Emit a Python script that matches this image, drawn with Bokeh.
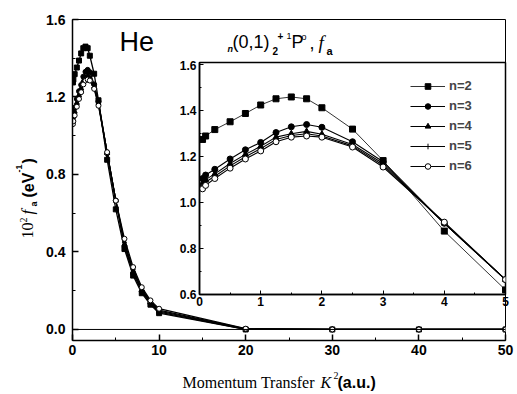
from bokeh.plotting import figure
from bokeh.models import Label, Legend, LegendItem, Span, FixedTicker, Range1d, PrintfTickFormatter
from bokeh.layouts import column
from bokeh.embed import file_html
from bokeh.resources import INLINE
import math

# Momentum transfer K^2 (a.u.) sampled near the peak and in the tail
k2_low = [0.05, 0.1, 0.25, 0.5, 0.75, 1.0, 1.25, 1.5, 1.75, 2.0, 2.5, 3.0, 4.0, 5.0]
k2_high = [6, 7, 8, 9, 10, 20, 30, 40, 50]

# 10^2 f_a (eV^-1) for each basis size n
fa_n2_low = [1.275, 1.29, 1.318, 1.352, 1.388, 1.425, 1.452, 1.46, 1.452, 1.413, 1.32, 1.183, 0.876, 0.62]
fa_n3_low = [1.105, 1.12, 1.145, 1.19, 1.23, 1.262, 1.305, 1.33, 1.34, 1.328, 1.265, 1.178, 0.91, 0.665]
fa_n4_low = [1.085, 1.10, 1.125, 1.17, 1.21, 1.245, 1.285, 1.30, 1.31, 1.298, 1.253, 1.17, 0.91, 0.665]
fa_n5_low = [1.075, 1.09, 1.115, 1.16, 1.20, 1.235, 1.275, 1.292, 1.30, 1.29, 1.247, 1.163, 0.91, 0.665]
fa_n6_low = [1.06, 1.075, 1.105, 1.15, 1.19, 1.225, 1.265, 1.285, 1.29, 1.285, 1.242, 1.155, 0.915, 0.665]

fa_n2_high = [0.415, 0.278, 0.187, 0.128, 0.084, 0.0, 0.0, 0.0, 0.0]
fa_n3_high = [0.43, 0.29, 0.195, 0.135, 0.09, 0.001, 0.0, 0.0, 0.0]
fa_n4_high = [0.44, 0.30, 0.203, 0.14, 0.095, 0.002, 0.0, 0.0, 0.0]
fa_n5_high = [0.45, 0.31, 0.21, 0.145, 0.10, 0.003, 0.0, 0.0, 0.0]
fa_n6_high = [0.468, 0.322, 0.218, 0.150, 0.107, 0.004, 0.0, 0.0, 0.0]

series_labels = ["n=2", "n=3", "n=4", "n=5", "n=6"]
series_low = [fa_n2_low, fa_n3_low, fa_n4_low, fa_n5_low, fa_n6_low]
series_high = [fa_n2_high, fa_n3_high, fa_n4_high, fa_n5_high, fa_n6_high]
markers = ["square", "circle", "triangle", "cross", "circle"]
fills = ["black", "black", "black", "black", "white"]

main_x_ticks = [0, 10, 20, 30, 40, 50]
main_y_ticks = [0.0, 0.4, 0.8, 1.2, 1.6]
inset_x_ticks = [0, 1, 2, 3, 4, 5]
inset_y_ticks = [0.6, 0.8, 1.0, 1.2, 1.4, 1.6]

SANS = "Liberation Sans"
SERIF = "Liberation Serif"

W, H = 517, 394
BL, BR = 72, 12  # left / right borders shared by every panel in the column

# ---------------- text layer (bottom of the stack) ----------------
# A panel over the whole canvas whose data units are canvas pixels, so the
# mixed-font titles can sit outside the plotting frames.
SHIFT = 65
t = figure(width=W, height=H, output_backend="svg", toolbar_location=None,
           x_axis_type=None, y_axis_type=None,
           x_range=Range1d(BL - SHIFT, W - BR - SHIFT), y_range=Range1d(H, 0),
           min_border_left=BL, min_border_right=BR, min_border_top=0, min_border_bottom=0)
t.grid.visible = False
t.outline_line_color = None
t.background_fill_color = "white"
t.border_fill_color = "white"
t.margin = (0, 0, 0, -SHIFT)

MID = 0.35  # distance from the baseline to the middle of the em box, in font sizes


def put(cx, cy, text, size, font=SANS, style="normal", angle=0.0):
    # (cx, cy) is the start of the text on its baseline
    if angle:
        x, y = cx - MID * size, cy
    else:
        x, y = cx, cy - MID * size
    t.add_layout(Label(x=x, y=y, text=text, text_font=font, text_font_size=f"{size}px",
                       text_font_style=style, text_color="black", text_align="left",
                       text_baseline="middle", angle=angle))


# panel tag
put(119, 51, "He", 27)

# x axis title
put(182, 388, "Momentum Transfer", 16, font=SERIF)
put(320, 388, "K", 16, font=SERIF, style="italic")
put(333, 378, "2", 10, font=SERIF)
put(337, 388, "(a.u.)", 16, style="bold")

# y axis title (rotated, reads upward)
up = math.pi / 2
put(33, 238, "10", 16, font=SERIF, angle=up)
put(26, 222, "2", 10, font=SERIF, angle=up)
put(33, 214, "f", 17, font=SERIF, style="italic", angle=up)
put(37, 206, "a", 9, style="bold", angle=up)
put(34, 197, "(eV", 16, style="bold", angle=up)
put(22, 172, "-1", 9, style="bold", angle=up)
put(34, 163, ")", 16, style="bold", angle=up)

# inset title, in the band above the inset frame
put(227, 52, "n", 9, style="bold italic")
put(232, 48, "(0,1)", 18)
put(272, 54, "2", 10, style="bold")
put(277, 39, "+", 10, style="bold")
put(286, 39, "1", 9)
put(291, 48, "P", 18)
put(301, 40, "o", 9)
put(309, 48, ",", 18)
put(318, 49, "f", 19, font=SERIF, style="italic")
put(326, 54, "a", 11, style="bold")

# ---------------- main panel (transparent, over the text layer) ----------------
p = figure(width=W, height=H, output_backend="svg", toolbar_location=None,
           x_range=Range1d(0, 50), y_range=Range1d(-0.057, 1.6),
           min_border_left=BL, min_border_right=BR, min_border_top=19, min_border_bottom=54)
p.grid.visible = False
p.outline_line_color = "black"
p.outline_line_width = 1
p.background_fill_color = None
p.background_fill_alpha = 0
p.border_fill_color = None
p.border_fill_alpha = 0
p.margin = (-H, 0, 0, 0)

for ax in (p.xaxis[0], p.yaxis[0]):
    ax.axis_line_width = 1.5
    ax.major_tick_in = 6
    ax.major_tick_out = 0
    ax.minor_tick_in = 3
    ax.minor_tick_out = 0
    ax.major_tick_line_width = 1.5
    ax.major_label_text_font = SANS
    ax.major_label_text_font_style = "bold"
    ax.major_label_text_font_size = "14px"
    ax.major_label_text_color = "black"
p.xaxis.ticker = FixedTicker(ticks=main_x_ticks, minor_ticks=[5, 15, 25, 35, 45])
p.yaxis.ticker = FixedTicker(ticks=main_y_ticks, minor_ticks=[0.2, 0.6, 1.0, 1.4])
p.yaxis.formatter = PrintfTickFormatter(format="%.1f")
p.xaxis.major_label_standoff = 4
p.yaxis.major_label_standoff = 7

p.add_layout(Span(location=0, dimension="width", line_color="black", line_width=1))

for lab, lo, hi, mk, fc in zip(series_labels, series_low, series_high, markers, fills):
    xs = k2_low + k2_high
    ys = lo + hi
    p.line(xs, ys, line_color="black", line_width=1.3)
    p.scatter(xs, ys, marker=mk, size=5, fill_color=fc, line_color="black", line_width=1)

# ---------------- inset panel ----------------
IT, IB = 2, 24
INSET_FRAME_LEFT = 199
INSET_FRAME_RIGHT = 505
q = figure(width=BL + (INSET_FRAME_RIGHT - INSET_FRAME_LEFT) + BR, height=IT + 232 + IB,
           output_backend="svg", toolbar_location=None,
           x_range=Range1d(0, 5), y_range=Range1d(0.6, 1.61),
           min_border_left=BL, min_border_right=BR, min_border_top=IT, min_border_bottom=IB)
q.grid.visible = False
q.outline_line_color = "black"
q.outline_line_width = 1.5
q.background_fill_color = "white"
q.border_fill_color = None
q.border_fill_alpha = 0
q.margin = (-(H - 60), 0, 0, INSET_FRAME_LEFT - BL)

for ax in (q.xaxis[0], q.yaxis[0]):
    ax.axis_line_width = 1.5
    ax.major_tick_in = 4
    ax.major_tick_out = 0
    ax.minor_tick_in = 2
    ax.minor_tick_out = 0
    ax.major_label_text_font = SANS
    ax.major_label_text_font_style = "bold"
    ax.major_label_text_font_size = "12px"
    ax.major_label_text_color = "black"
q.xaxis.ticker = FixedTicker(ticks=inset_x_ticks, minor_ticks=[0.5, 1.5, 2.5, 3.5, 4.5])
q.yaxis.ticker = FixedTicker(ticks=inset_y_ticks, minor_ticks=[0.7, 0.9, 1.1, 1.3, 1.5])
q.yaxis.formatter = PrintfTickFormatter(format="%.1f")
q.xaxis.major_label_standoff = 2
q.yaxis.major_label_standoff = 3

items = []
for i, (lab, lo, mk, fc) in enumerate(zip(series_labels, series_low, markers, fills)):
    lw = 0.8 if i == 0 else 1.1
    ln = q.line(k2_low, lo, line_color="black", line_width=lw)
    sc = q.scatter(k2_low, lo, marker=mk, size=6, fill_color=fc, line_color="black", line_width=1)
    items.append(LegendItem(label=lab, renderers=[ln, sc]))

leg = Legend(items=items, location=(211, 121), orientation="vertical",
             glyph_width=35, glyph_height=14, label_height=14, spacing=5,
             label_standoff=4, padding=0, margin=0,
             label_text_font=SANS, label_text_font_style="bold", label_text_font_size="13px",
             background_fill_alpha=0, border_line_color=None)
q.add_layout(leg)

layout = column(t, p, q)
open("out.html", "w").write(file_html(layout, INLINE))
